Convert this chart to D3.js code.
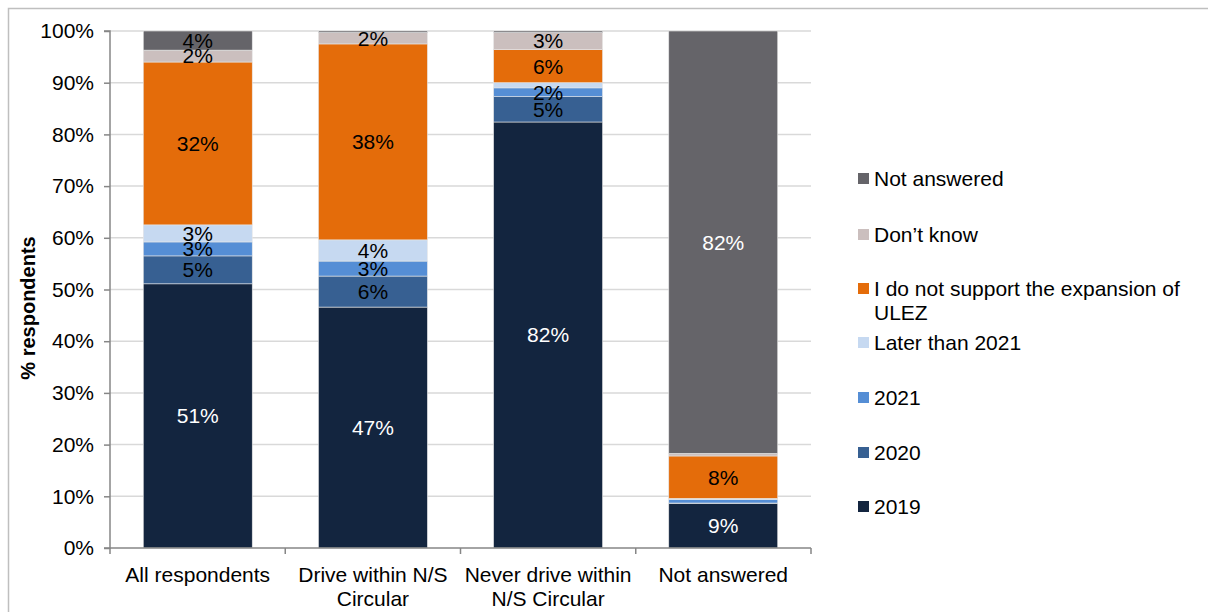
<!DOCTYPE html>
<html><head><meta charset="utf-8">
<script src="https://cdn.jsdelivr.net/npm/d3@7"></script>
<style>body{margin:0;background:#fff}svg{display:block;font-family:"Liberation Sans",Arial,sans-serif}</style>
</head><body><svg id="c" width="1208" height="612"></svg>
<script>
const categories = [["All respondents"], ["Drive within N/S", "Circular"], ["Never drive within", "N/S Circular"], ["Not answered"]];
const seriesNames = ["2019", "2020", "2021", "Later than 2021", "I do not support the expansion of ULEZ", "Don\u2019t know", "Not answered"];
const seriesColors = ["#13253f", "#376092", "#558ed5", "#c6d9f1", "#e46c0a", "#cbbfbe", "#656469"];
const labelColors = ["#fff", "#000", "#000", "#000", "#000", "#000", "#000"];
const v2019 = [51.1, 46.6, 82.4, 8.6];
const v2020 = [5.4, 6.0, 4.9, 0.1];
const v2021 = [2.7, 2.9, 1.7, 0.7];
const vLater = [3.3, 4.1, 1.0, 0.2];
const vNoSupport = [31.5, 37.9, 6.4, 8.2];
const vDontKnow = [2.3, 2.2, 3.3, 0.5];
const vNotAnswered = [3.7, 0.3, 0.3, 81.7];
const yTicks = [0, 10, 20, 30, 40, 50, 60, 70, 80, 90, 100];
const legendLines = [["Not answered"], ["Don\u2019t know"], ["I do not support the expansion of", "ULEZ"], ["Later than 2021"], ["2021"], ["2020"], ["2019"]];

(function () {
const seriesVals = [v2019, v2020, v2021, vLater, vNoSupport, vDontKnow, vNotAnswered];
const svg = d3.select("#c");
const FS = 21;
svg.append("rect").attr("x", 8.5).attr("y", 8.5).attr("width", 1220).attr("height", 620)
  .attr("fill", "none").attr("stroke", "#bfbfbf").attr("stroke-width", 1.5);

const pL = 110, pR = 811, pT = 31, pB = 548;
const x = d3.scaleBand().domain(d3.range(categories.length)).range([pL, pR]).paddingInner(0.378).paddingOuter(0.19);
const y = d3.scaleLinear().domain([0, 100]).range([pB, pT]);

svg.append("g").selectAll("line").data(yTicks.filter(d => d > 0)).join("line")
  .attr("x1", pL).attr("x2", pR).attr("y1", d => y(d)).attr("y2", d => y(d))
  .attr("stroke", "#d9d9d9").attr("stroke-width", 1.5);

const rows = categories.map((c, i) => { const o = {i}; seriesNames.forEach((s, k) => o[k] = seriesVals[k][i]); return o; });
const stack = d3.stack().keys(d3.range(seriesNames.length))(rows);

const g = svg.append("g");
stack.forEach((layer, k) => {
  g.append("g").selectAll("rect").data(layer).join("rect")
    .attr("x", d => x(d.data.i)).attr("width", x.bandwidth())
    .attr("y", d => y(d[1])).attr("height", d => y(d[0]) - y(d[1]))
    .attr("fill", seriesColors[k]).attr("stroke", "#e6e6e6").attr("stroke-width", 0.6);
});
stack.forEach((layer, k) => {
  g.append("g").selectAll("text").data(layer.filter(d => d[1] - d[0] >= 1.5)).join("text")
    .attr("x", d => x(d.data.i) + x.bandwidth() / 2).attr("y", d => (y(d[0]) + y(d[1])) / 2)
    .attr("dy", "0.35em").attr("text-anchor", "middle").attr("font-size", FS)
    .attr("fill", d => (k === 6 && d[1] - d[0] > 50) ? "#fff" : labelColors[k])
    .text(d => Math.round(d[1] - d[0]) + "%");
});

const ya = svg.append("g").attr("transform", `translate(${pL},0)`)
  .call(d3.axisLeft(y).tickValues(yTicks).tickFormat(d => d + "%").tickSize(6).tickPadding(10));
ya.select(".domain").attr("stroke", "#868686").attr("stroke-width", 1.5).attr("d", `M-6,${pT}H0V${pB}H-6`);
ya.selectAll(".tick line").attr("stroke", "#868686").attr("stroke-width", 1.5);
ya.selectAll(".tick text").attr("font-size", FS).attr("fill", "#000").attr("font-family", "Liberation Sans, Arial, sans-serif");

const xa = svg.append("g");
xa.append("line").attr("x1", pL).attr("x2", pR).attr("y1", pB).attr("y2", pB).attr("stroke", "#868686").attr("stroke-width", 1.5);
const step = (pR - pL) / categories.length;
xa.selectAll("line.t").data(d3.range(categories.length + 1)).join("line").attr("class", "t")
  .attr("x1", d => pL + d * step).attr("x2", d => pL + d * step).attr("y1", pB).attr("y2", pB + 6)
  .attr("stroke", "#868686").attr("stroke-width", 1.5);
categories.forEach((lines, i) => {
  const t = xa.append("text").attr("x", x(i) + x.bandwidth() / 2).attr("y", 582).attr("text-anchor", "middle")
    .attr("font-size", FS).attr("fill", "#000");
  lines.forEach((l, j) => t.append("tspan").attr("x", x(i) + x.bandwidth() / 2).attr("dy", j ? 24 : 0).text(l));
});

svg.append("text").attr("transform", "translate(35,308) rotate(-90)").attr("text-anchor", "middle")
  .attr("font-size", 20).attr("font-weight", "bold").attr("fill", "#000").text("% respondents");

const legendIdx = [6, 5, 4, 3, 2, 1, 0];
const ly = [179, 235, 289, 343, 398, 453, 507];
legendIdx.forEach((k, j) => {
  const lg = svg.append("g");
  lg.append("rect").attr("x", 858).attr("y", ly[j] - 6).attr("width", 11).attr("height", 11).attr("fill", seriesColors[k]);
  const t = lg.append("text").attr("x", 874).attr("y", ly[j]).attr("font-size", FS).attr("fill", "#000");
  legendLines[j].forEach((l, m) => t.append("tspan").attr("x", 874).attr("dy", m ? 24 : "0.35em").text(l));
});
})();
</script></body></html>
